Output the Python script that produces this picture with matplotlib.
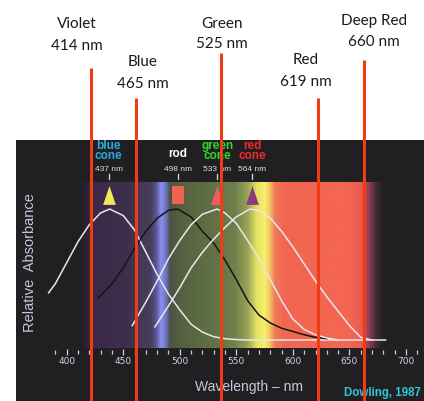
import numpy as np
import matplotlib.pyplot as plt
from matplotlib.colors import LinearSegmentedColormap

W, H = 424, 401

# red marker lines: names, labelled wavelength, position
line_names = ['Violet', 'Blue', 'Green', 'Red', 'Deep Red']
line_nm = [414, 465, 525, 619, 660]
line_axis_nm = [421.5, 461, 536.5, 622.5, 662.5]

# photoreceptors
cone_labels = ['blue\ncone', 'rod', 'green\ncone', 'red\ncone']
cone_peak_nm = [437, 498, 533, 564]

# absorbance curves
blue_nm = [384, 390, 400, 410, 420, 430, 438, 450, 460, 470, 480, 490, 500, 510, 520, 530, 540, 550, 560, 600, 682]
blue_val = [0.36, 0.43, 0.59, 0.75, 0.88, 0.97, 1.0, 0.95, 0.84, 0.67, 0.50, 0.35, 0.23, 0.12, 0.06, 0.025, 0.01, 0.003, 0.0, 0.0, 0.0]

rod_nm = [428, 440, 450, 460, 470, 480, 490, 498, 510, 520, 530, 540, 550, 560, 570, 580, 590, 600, 610, 620, 630]
rod_val = [0.32, 0.43, 0.55, 0.70, 0.83, 0.93, 0.99, 1.0, 0.94, 0.83, 0.74, 0.61, 0.46, 0.30, 0.19, 0.13, 0.09, 0.065, 0.04, 0.02, 0.01]

green_nm = [458, 470, 480, 490, 500, 510, 520, 533, 540, 550, 560, 570, 580, 590, 600, 610, 620, 630, 640]
green_val = [0.11, 0.29, 0.45, 0.62, 0.76, 0.88, 0.96, 1.0, 0.97, 0.89, 0.76, 0.62, 0.46, 0.30, 0.16, 0.08, 0.04, 0.015, 0.0]

red_nm = [478, 490, 500, 510, 520, 530, 540, 550, 562, 570, 580, 590, 600, 610, 620, 630, 640, 650, 660, 670]
red_val = [0.10, 0.26, 0.40, 0.55, 0.67, 0.77, 0.86, 0.94, 1.0, 0.99, 0.93, 0.83, 0.71, 0.58, 0.45, 0.33, 0.22, 0.11, 0.02, 0.0]

# spectrum colour stops (wavelength, colour)
spectrum_nm = [410, 417, 424, 450, 474, 479, 483, 487, 491, 500, 525, 548, 560, 568, 575, 580, 584, 592, 650, 661, 668, 675, 682]
spectrum_col = ['#211f22', '#2c2433', '#3a2a48', '#3d2e4b', '#4a3d5c', '#5a5a98', '#8c90f2', '#6f78c8',
                '#4c5248', '#55603f', '#5f6f45', '#6e7e4c', '#98a458', '#e6e262', '#f6f06c', '#f4c060',
                '#f17a58', '#f26651', '#f46651', '#ea5c50', '#8a3c55', '#3a2832', '#211f22']

major_ticks = [400, 450, 500, 550, 600, 650, 700]
minor_ticks = list(range(390, 720, 10))

panel_bg = '#211f22'
x_lo, x_hi = 355.2, 715.9
y_lo, y_hi = -0.466, 1.527
narrow = ['Liberation Sans Narrow', 'Liberation Sans']

fig = plt.figure(figsize=(W / 100, H / 100), dpi=100)
fig.patch.set_facecolor('white')

ax = fig.add_axes([16 / W, 0, 408 / W, 261 / H])
ax.set_facecolor(panel_bg)

# spectrum band
s0, s1 = spectrum_nm[0], spectrum_nm[-1]
cmap = LinearSegmentedColormap.from_list(
    'spec', [((n - s0) / (s1 - s0), c) for n, c in zip(spectrum_nm, spectrum_col)])
grad = np.linspace(0, 1, 600)[None, :]
ax.imshow(grad, cmap=cmap, aspect='auto', extent=[s0, s1, -0.06, 1.206],
          interpolation='bilinear', zorder=1)
ax.set_xlim(x_lo, x_hi)
ax.set_ylim(y_lo, y_hi)

# curves
lw = 1.1
ax.plot(blue_nm, blue_val, color='#e8e8e8', lw=lw, zorder=3)
ax.plot(rod_nm, rod_val, color='#151515', lw=lw, zorder=3)
ax.plot(green_nm, green_val, color='#e8e8e8', lw=lw, zorder=3)
ax.plot(red_nm, red_val, color='#e8e8e8', lw=lw, zorder=3)

# peak markers
tri = [(-0.34, -0.5), (0.34, -0.5), (0, 0.5)]
rect = [(-0.3, -0.5), (0.3, -0.5), (0.3, 0.5), (-0.3, 0.5)]
marker_shapes = [tri, rect, tri, tri]
marker_cols = ['#f2e85a', '#f06352', '#f25a5c', '#8c3a78']
label_cols = ['#2aa8e2', 'white', '#2ed82e', '#f02a2a']
for pk, lab, shp, mc, lc in zip(cone_peak_nm, cone_labels, marker_shapes, marker_cols, label_cols):
    ax.plot([pk], [1.107], marker=shp, markersize=13.5, color=mc, markeredgewidth=0, zorder=4)
    ax.plot([pk, pk], [1.229, 1.267], color='#dddddd', lw=0.9, zorder=4)
    ax.text(pk, 1.305, f'{pk} nm', color='#e0e0e0', fontsize=6, ha='center', va='center',
            family=narrow)
    ax.text(pk, 1.44 if '\n' in lab else 1.42, lab, color=lc, fontsize=8.5, fontweight='bold',
            ha='center', va='center', linespacing=0.8, family=narrow)

# wavelength axis drawn inside the panel
for sp in ax.spines.values():
    sp.set_visible(False)
ax.spines['bottom'].set_position(('data', -0.095))
ax.set_xticks(major_ticks)
ax.set_xticks(minor_ticks, minor=True)
ax.set_yticks([])
ax.tick_params(axis='x', which='major', direction='inout', length=4, width=0.9,
               color='#d0d0d0', labelcolor='#cfd2da', labelsize=6.5, pad=1.5,
               labelfontfamily='Liberation Sans Narrow')
ax.tick_params(axis='x', which='minor', direction='inout', length=2.5, width=0.9, color='#d0d0d0')

ax.text(0.57, 0.052, 'Wavelength \u2013 nm', transform=ax.transAxes, color='#c2c9da',
        fontsize=10, ha='center', va='center', family='Liberation Sans')
ax.text(0.897, 0.03, 'Dowling, 1987', transform=ax.transAxes, color='#2ec8d6',
        fontsize=8.3, fontweight='bold', ha='center', va='center', family=narrow)
ax.text(0.034, 0.53, 'Relative  Absorbance', transform=ax.transAxes, rotation=90,
        color='#c2c9da', fontsize=10.5, ha='center', va='center', family='Liberation Sans')

# red lines on top of everything, reaching up into the white area
over = fig.add_axes([16 / W, 0, 408 / W, 1])
over.set_xlim(x_lo, x_hi)
over.set_ylim(0, 1)
over.axis('off')
line_tops = [68, 98, 53, 98, 60]
for xn, top in zip(line_axis_nm, line_tops):
    over.axvline(xn, 0, 1 - top / H, color='#f03c14', lw=2.2, solid_capstyle='butt')

# labels above the lines
label_x = [77, 143, 222, 306, 374]
label_base = [28.5, 66.5, 27.5, 64.5, 24.5]
for name, nm, lx, by in zip(line_names, line_nm, label_x, label_base):
    fig.text(lx / W, 1 - by / H, name, ha='center', va='baseline', fontsize=11,
             family='Lato', color='#1a1a1a')
    fig.text(lx / W, 1 - (by + 21) / H, f'{nm} nm', ha='center', va='baseline', fontsize=11,
             family='Lato', color='#1a1a1a')

fig.savefig('out.png', dpi=100, facecolor='white')
